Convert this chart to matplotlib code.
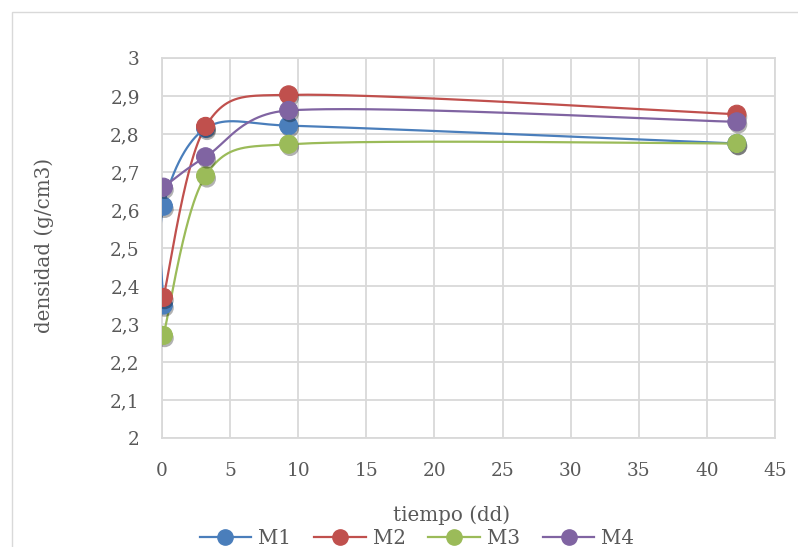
import numpy as np
import matplotlib
matplotlib.use("Agg")
import matplotlib.pyplot as plt
import matplotlib.patheffects as pe
from matplotlib.lines import Line2D
from matplotlib.patches import Rectangle

# tiempo (dd) / densidad (g/cm3)
m1_x = [0.1, 0.1, 3.2, 9.3, 42.2]
m1_y = [2.35, 2.61, 2.815, 2.822, 2.775]
m2_x = [0.1, 3.2, 9.3, 42.2]
m2_y = [2.37, 2.82, 2.903, 2.852]
m3_x = [0.1, 3.2, 9.3, 42.2]
m3_y = [2.27, 2.69, 2.773, 2.775]
m4_x = [0.1, 3.2, 9.3, 42.2]
m4_y = [2.66, 2.74, 2.862, 2.832]

series_names = ["M1", "M2", "M3", "M4"]
colors = ["#4A7EBB", "#C0504D", "#9BBB59", "#8064A2"]

X_MAX = 45
Y_MIN, Y_MAX = 2, 3
PX_X = 611 / 45   # pixels per x unit, for the smoothing
PX_Y = 380 / 1.0  # pixels per y unit


def smooth_curve(xs, ys, steps=80):
    # Excel-like smoothed line: Bezier segments, handles capped at half the segment
    pts = np.column_stack([xs, ys]).astype(float)
    scale = np.array([PX_X, PX_Y])
    padded = np.vstack([pts[0], pts, pts[-1]])
    out = []
    for i in range(len(pts) - 1):
        p0, p1, p2, p3 = padded[i], padded[i + 1], padded[i + 2], padded[i + 3]
        d02 = np.linalg.norm((p2 - p0) * scale)
        d12 = np.linalg.norm((p2 - p1) * scale)
        d13 = np.linalg.norm((p3 - p1) * scale)
        f = min(1 / 6, d12 / (2 * d02)) if d02 > 0 else 1 / 6
        g = min(1 / 6, d12 / (2 * d13)) if d13 > 0 else 1 / 6
        c1 = p1 + f * (p2 - p0)
        c2 = p2 - g * (p3 - p1)
        t = np.linspace(0, 1, steps)[:, None]
        seg = ((1 - t) ** 3) * p1 + 3 * ((1 - t) ** 2) * t * c1 + 3 * (1 - t) * t ** 2 * c2 + t ** 3 * p2
        out.append(seg)
    curve = np.vstack(out)
    return curve[:, 0], curve[:, 1]


plt.rcParams["font.family"] = ["DejaVu Serif"]

fig = plt.figure(figsize=(7.98, 5.47), dpi=100)
fig.patches.append(Rectangle((12 / 798, -0.01), 1.2, 1 - 12 / 547 + 0.01, transform=fig.transFigure,
                             fill=False, edgecolor="#d9d9d9", linewidth=1.0))
ax = fig.add_axes([162 / 798, 1 - 438 / 547, (775 - 162) / 798, (438 - 58) / 547])

data = [(m1_x, m1_y), (m2_x, m2_y), (m3_x, m3_y), (m4_x, m4_y)]
shadow = [pe.SimplePatchShadow(offset=(1, -2), shadow_rgbFace="black", alpha=0.3), pe.Normal()]

for (xs, ys), color in zip(data, colors):
    cx, cy = smooth_curve(xs, ys)
    ax.plot(cx, cy, color=color, linewidth=1.6, zorder=3)

for (xs, ys), color in zip(data, colors):
    ax.plot(xs, ys, linestyle="none", marker="o", markersize=13, color=color,
            markeredgecolor=color, markeredgewidth=0.8, zorder=4, path_effects=shadow)

y_ticks = np.round(np.arange(Y_MIN, Y_MAX + 0.01, 0.1), 1)
ax.set_xlim(0, X_MAX)
ax.set_ylim(Y_MIN, Y_MAX)
ax.set_xticks(np.arange(0, X_MAX + 1, 5))
ax.set_yticks(y_ticks)
ax.set_yticklabels([f"{v:g}".replace(".", ",") for v in y_ticks])
ax.grid(True, color="#d9d9d9", linewidth=1.3)
ax.set_axisbelow(True)
for side in ["top", "right", "left", "bottom"]:
    ax.spines[side].set_color("#d9d9d9")
    ax.spines[side].set_linewidth(1.3)
ax.tick_params(axis="both", length=0, labelsize=13.3, colors="#595959")
ax.tick_params(axis="y", pad=16)
ax.tick_params(axis="x", pad=17)

fig.text(452 / 798, 1 - 515 / 547, "tiempo (dd)", ha="center", va="center", fontsize=14.3, color="#595959")
fig.text(44 / 798, 1 - 245 / 547, "densidad (g/cm3)", ha="center", va="center", rotation=90,
         fontsize=14.3, color="#595959")

handles = [Line2D([0], [0], color=c, linewidth=1.6, marker="o", markersize=11) for c in colors]
fig.legend(handles, series_names, loc="center", bbox_to_anchor=(417 / 798, 1 - 538 / 547), ncol=4,
           frameon=False, fontsize=14.3, handlelength=2.6, columnspacing=1.15, handletextpad=0.35,
           labelcolor="#595959", borderpad=0)

fig.savefig("out.png", dpi=100)
